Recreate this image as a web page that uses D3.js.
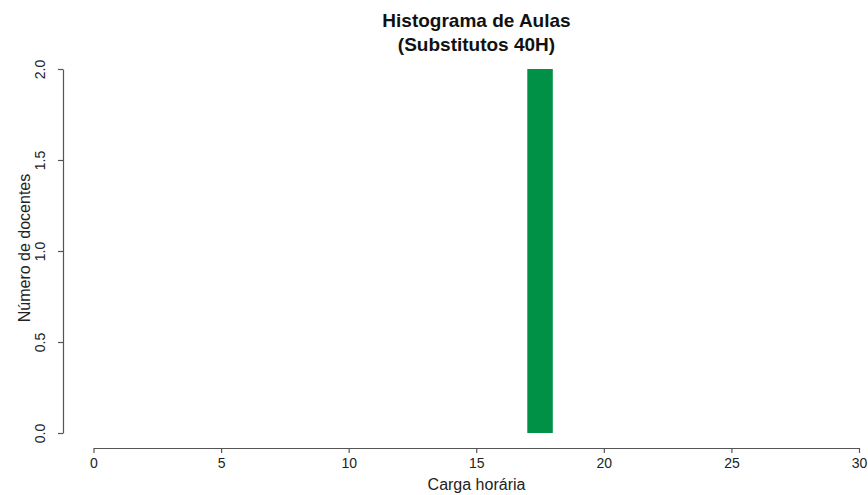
<!DOCTYPE html>
<html><head><meta charset="utf-8">
<script src="https://cdn.jsdelivr.net/npm/d3@7"></script>
<style>body{margin:0;background:#fff}svg{display:block;font-family:"Liberation Sans",Arial,sans-serif}</style>
</head><body><svg id="c" width="868" height="495"></svg>
<script>
const binStarts = [17];
const binEnds = [18];
const counts = [2];
const xTicks = [0,5,10,15,20,25,30];
const yTicks = [0,0.5,1,1.5,2];
const title = ["Histograma de Aulas","(Substitutos 40H)"];
const xLabel = "Carga horária";
const yLabel = "Número de docentes";

const svg = d3.select("#c");
const x = d3.scaleLinear().domain([0,30]).range([93.5,859]);
const y = d3.scaleLinear().domain([0,2]).range([433,69]);
const axisColor = "#555";

svg.selectAll("rect.bar").data(counts).enter().append("rect")
  .attr("class","bar")
  .attr("x",(d,i)=>x(binStarts[i]))
  .attr("width",(d,i)=>x(binEnds[i])-x(binStarts[i]))
  .attr("y",d=>y(d)).attr("height",d=>y(0)-y(d))
  .attr("fill","#009146");

const xa = svg.append("g").attr("transform","translate(0,448)")
  .call(d3.axisBottom(x).tickValues(xTicks).tickSize(5).tickSizeOuter(0).tickFormat(d3.format("d")));
const ya = svg.append("g").attr("transform","translate(63,0)")
  .call(d3.axisLeft(y).tickValues(yTicks).tickSize(5).tickSizeOuter(0).tickFormat(d3.format(".1f")));
[xa,ya].forEach(a=>{
  a.select(".domain").attr("stroke",axisColor).attr("stroke-width",1.2);
  a.selectAll(".tick line").attr("stroke",axisColor).attr("stroke-width",1.2);
  a.selectAll(".tick text").attr("fill","#222").style("font-size","14px").style("font-family","'Liberation Sans',Arial,sans-serif");
});
xa.selectAll(".tick text").attr("y",20).attr("dy",0);
ya.selectAll(".tick text").attr("text-anchor","middle").attr("x",0).attr("dy",0)
  .attr("transform","translate(-18,0) rotate(-90)");

svg.append("text").attr("x",476.5).attr("y",490).attr("text-anchor","middle")
  .style("font-size","16px").attr("fill","#222").text(xLabel);
svg.append("text").attr("transform","translate(30,248) rotate(-90)").attr("text-anchor","middle")
  .style("font-size","16px").attr("fill","#222").text(yLabel);
svg.selectAll("text.title").data(title).enter().append("text").attr("class","title")
  .attr("x",476.5).attr("y",(d,i)=>27+i*24).attr("text-anchor","middle")
  .style("font-size","19px").style("font-weight","bold").attr("fill","#111").text(d=>d);
</script></body></html>
